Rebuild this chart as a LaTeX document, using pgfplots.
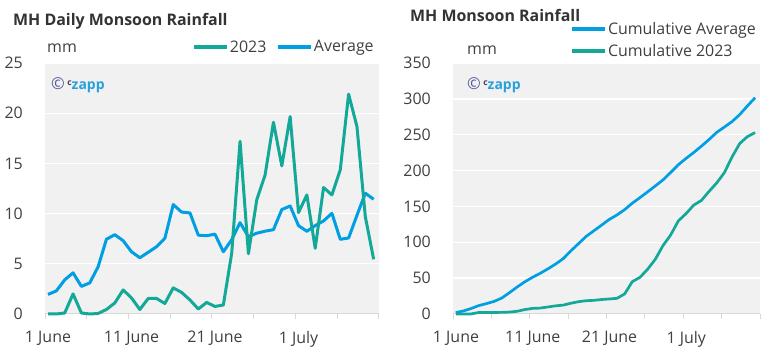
\documentclass[border=0pt]{standalone}
\usepackage{pgfplots}
\usepackage{pgfplotstable}
\pgfplotsset{compat=1.18}
\usepackage{fontspec}
\setmainfont{Open Sans}
\definecolor{teal23}{RGB}{20,168,152}
\definecolor{avgblue}{RGB}{0,158,226}
\definecolor{bggray}{RGB}{241,241,241}
\definecolor{axgray}{RGB}{217,217,217}
\definecolor{txt}{RGB}{64,64,64}
\definecolor{ttl}{RGB}{51,51,51}
\definecolor{wmpurple}{RGB}{85,85,160}
\definecolor{wmblue}{RGB}{40,160,220}

\pgfplotstableread{
day avg y23 cavg c23
0.36 1.95 0.00 1.95 0.00
1.36 2.30 0.00 4.25 0.00
2.36 3.40 0.10 7.65 0.10
3.36 4.10 2.00 11.75 2.10
4.36 2.75 0.10 14.50 2.20
5.36 3.10 0.00 17.60 2.20
6.36 4.70 0.05 22.30 2.25
7.36 7.45 0.45 29.75 2.70
8.36 7.90 1.10 37.65 3.80
9.36 7.30 2.40 44.95 6.20
10.36 6.20 1.60 51.15 7.80
11.36 5.60 0.45 56.75 8.25
12.36 6.15 1.55 62.90 9.80
13.36 6.70 1.55 69.60 11.35
14.36 7.55 1.05 77.15 12.40
15.36 10.90 2.60 88.05 15.00
16.36 10.15 2.15 98.20 17.15
17.36 10.07 1.40 108.27 18.55
18.36 7.85 0.50 116.12 19.05
19.36 7.80 1.15 123.92 20.20
20.36 7.95 0.75 131.87 20.95
21.36 6.20 0.90 138.07 21.85
22.36 7.40 6.05 145.47 27.90
23.36 9.10 17.20 154.57 45.10
24.36 7.70 6.00 162.27 51.10
25.36 8.05 11.36 170.32 62.46
26.36 8.25 13.85 178.57 76.31
27.36 8.40 19.10 186.97 95.41
28.36 10.40 14.75 197.37 110.16
29.36 10.76 19.67 208.13 129.83
30.36 8.80 10.10 216.93 139.93
31.36 8.24 11.86 225.17 151.79
32.36 8.80 6.54 233.97 158.33
33.36 9.27 12.60 243.24 170.93
34.36 10.03 11.86 253.27 182.79
35.36 7.44 14.35 260.71 197.14
36.36 7.57 21.90 268.28 219.04
37.36 9.83 18.67 278.11 237.71
38.36 12.03 9.70 290.14 247.41
39.36 11.43 5.45 301.57 252.86
}\raindata

\pgfplotsset{
  rainstyle/.style={
    scale only axis, anchor=south west, height=251bp,
    xmin=0, xmax=40, ymin=0,
    clip=false,
    axis background/.style={fill=bggray},
    ymajorgrids, grid style={white, line width=1.3bp},
    axis x line*=bottom, axis y line*=left,
    x axis line style={draw=axgray, line width=1bp, -},
    y axis line style={draw=none, -},
    xtick={0,5,...,40},
    xticklabels={1 June,,11 June,,21 June,,1 July,,},
    tick align=outside, major tick length=5bp,
    xtick style={draw=axgray, line width=1bp},
    ytick style={draw=none},
    tick label style={font=\fontsize{16}{19}\selectfont, text=txt},
    /pgf/number format/assume math mode=true,
    yticklabel style={inner sep=0pt, xshift=-17bp},
    xticklabel style={inner sep=0pt, yshift=-12bp, xshift=3bp},
    legend style={draw=none, fill=none, inner sep=0pt, outer sep=0pt,
      font=\fontsize{16}{19}\selectfont, text=txt, nodes={inner sep=1.5bp}},
    legend cell align=left,
    legend image code/.code={\draw[##1, line width=3.5bp] (0bp,0bp) -- (33bp,0bp);},
  }
}

\newcommand{\wm}{\textcolor{wmpurple}{\fontsize{16.5}{16}\selectfont ©}\hspace{2.5bp}\raisebox{3.5bp}{\fontsize{8.5}{8}\selectfont\bfseries\textcolor{wmpurple!70!black}{c}}\textcolor{wmblue}{\bfseries zapp}}

\begin{document}
\begin{tikzpicture}
\useasboundingbox (0,0) rectangle (780bp,361bp);

% Left chart
\begin{axis}[rainstyle, at={(45bp,47bp)}, width=334bp,
  ymax=25, ytick={0,5,...,25},
  legend columns=2, reverse legend,
  legend style={at={(axis description cs:0.4401,1.0637)}, anchor=west,
    /tikz/every even column/.append style={column sep=8bp}}]
\addplot[avgblue, line width=3bp, line join=round] table[x=day, y=avg] {\raindata};
\addlegendentry{Average}
\addplot[teal23, line width=3bp, line join=round] table[x=day, y=y23] {\raindata};
\addlegendentry{2023}
\end{axis}

% Right chart
\begin{axis}[rainstyle, at={(453bp,47bp)}, width=307bp,
  ymax=350, ytick={0,50,...,350},
  legend style={at={(axis description cs:0.3811,1.0916)}, anchor=west, row sep=5bp}]
\addplot[avgblue, line width=2.7bp, line join=round] table[x=day, y=cavg] {\raindata};
\addlegendentry{Cumulative Average}
\addplot[teal23, line width=2.7bp, line join=round] table[x=day, y=c23] {\raindata};
\addlegendentry{Cumulative 2023}
\end{axis}

% Titles and labels
\node[anchor=base west, inner sep=0pt, text=ttl, font=\bfseries\fontsize{16}{18}\selectfont] at (13bp,335bp) {MH Daily Monsoon Rainfall};
\node[anchor=base west, inner sep=0pt, text=ttl, font=\bfseries\fontsize{16}{18}\selectfont] at (410bp,339.3bp) {MH Monsoon Rainfall};
\node[anchor=base west, inner sep=0pt, text=txt, font=\fontsize{16}{19}\selectfont] at (47bp,308.5bp) {mm};
\node[anchor=base west, inner sep=0pt, text=txt, font=\fontsize{16}{19}\selectfont] at (467bp,306.5bp) {mm};

% Watermarks
\node[anchor=west, inner sep=0pt, font=\fontsize{14}{16}\selectfont] at (51bp,276bp) {\wm};
\node[anchor=west, inner sep=0pt, font=\fontsize{14}{16}\selectfont] at (467bp,276bp) {\wm};
\end{tikzpicture}
\end{document}
